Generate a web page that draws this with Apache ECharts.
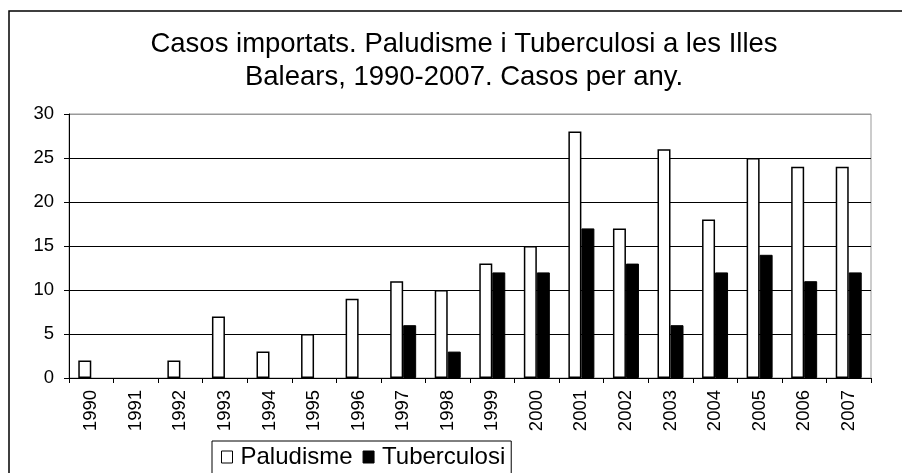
<!DOCTYPE html>
<html>
<head>
<meta charset="utf-8">
<script src="https://cdn.jsdelivr.net/npm/echarts@6/dist/echarts.min.js"></script>
<style>
  html, body { margin: 0; padding: 0; background: #fff; }
  #chart { width: 902px; height: 473px; }
</style>
</head>
<body>
<div id="chart"></div>
<script>
const years = ['1990', '1991', '1992', '1993', '1994', '1995', '1996', '1997', '1998',
  '1999', '2000', '2001', '2002', '2003', '2004', '2005', '2006', '2007'];
const paludisme = [2, 0, 2, 7, 3, 5, 9, 11, 10, 13, 15, 28, 17, 26, 18, 25, 24, 24];
const tuberculosi = [0, 0, 0, 0, 0, 0, 0, 6, 3, 12, 12, 17, 13, 6, 12, 14, 11, 12];

const font = '"Liberation Sans", Arial, sans-serif';

// zero values: no outline, so nothing shows on the axis
const noZeroLine = arr => arr.map(v => v === 0 ? { value: 0, itemStyle: { borderWidth: 0 } } : v);

const myChart = echarts.init(document.getElementById('chart'));

myChart.setOption({
  animation: false,
  backgroundColor: '#fff',
  textStyle: { fontFamily: font, color: '#000' },
  title: {
    left: 459,
    textAlign: 'center',
    top: 23,
    text: 'Casos importats. Paludisme i Tuberculosi a les Illes\nBalears, 1990-2007. Casos per any.',
    textStyle: {
      fontFamily: font,
      fontSize: 27.5,
      fontWeight: 'normal',
      lineHeight: 33,
      color: '#000'
    }
  },
  graphic: [{
    type: 'rect',
    shape: { x: 9, y: 11, width: 1000, height: 1000 },
    style: { fill: 'none', stroke: '#000', lineWidth: 1.5 },
    silent: true
  }],
  legend: {
    left: 212,
    top: 441,
    orient: 'horizontal',
    icon: 'rect',
    itemWidth: 11,
    itemHeight: 12,
    itemGap: 10,
    padding: [4, 6, 12, 9],
    borderColor: '#000',
    borderWidth: 1,
    textStyle: { fontFamily: font, fontSize: 24, color: '#000', padding: [0, 0, 0, 3] },
    data: [
      { name: 'Paludisme', itemStyle: { color: '#fff', borderColor: '#000', borderWidth: 1 } },
      { name: 'Tuberculosi', itemStyle: { color: '#000', borderColor: '#000', borderWidth: 1 } }
    ]
  },
  grid: {
    left: 69,
    top: 114,
    right: 31,
    bottom: 95,
    show: true,
    borderColor: '#999',
    borderWidth: 1,
    backgroundColor: '#fff',
    containLabel: false
  },
  xAxis: {
    type: 'category',
    data: years,
    axisLine: { lineStyle: { color: '#000', width: 1 } },
    axisTick: { show: true, length: 5, lineStyle: { color: '#000' } },
    axisLabel: { rotate: 90, fontSize: 18.5, color: '#000', margin: 12, fontFamily: font, interval: 0 }
  },
  yAxis: {
    type: 'value',
    min: 0,
    max: 30,
    interval: 5,
    axisLine: { show: true, lineStyle: { color: '#000', width: 1 } },
    axisTick: { show: true, length: 5, lineStyle: { color: '#000' } },
    axisLabel: { fontSize: 18.5, color: '#000', margin: 15, fontFamily: font },
    splitLine: {
      show: true,
      lineStyle: { color: ['#000', '#000', '#000', '#000', '#000', '#000', '#999'], width: 1 }
    }
  },
  series: [
    {
      name: 'Paludisme',
      type: 'bar',
      data: noZeroLine(paludisme),
      barWidth: 13,
      barGap: '0%',
      itemStyle: { color: '#fff', borderColor: '#000', borderWidth: 1.5 }
    },
    {
      name: 'Tuberculosi',
      type: 'bar',
      data: noZeroLine(tuberculosi),
      barWidth: 13,
      barGap: '0%',
      itemStyle: { color: '#000', borderColor: '#000', borderWidth: 1 }
    }
  ]
});
</script>
</body>
</html>
